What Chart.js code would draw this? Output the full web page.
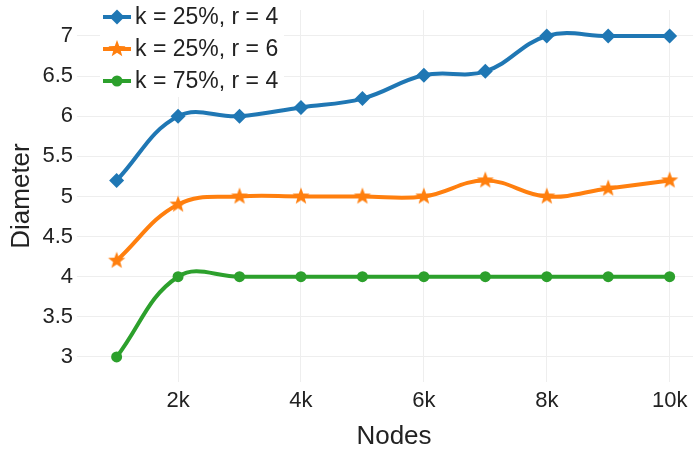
<!DOCTYPE html>
<html>
<head>
<meta charset="utf-8">
<script src="https://cdn.jsdelivr.net/npm/chart.js@4.4.1/dist/chart.umd.min.js"></script>
<style>
  html, body { margin: 0; padding: 0; background: #fff; }
  #wrap { width: 693px; height: 451px; position: relative; }
</style>
</head>
<body>
<div id="wrap"><canvas id="c" width="693" height="451"></canvas></div>
<script>
const nodes = [1000, 2000, 3000, 4000, 5000, 6000, 7000, 8000, 9000, 10000];
const seriesLabels = ['k = 25%, r = 4', 'k = 25%, r = 6', 'k = 75%, r = 4'];
const k25r4 = [5.2, 6.0, 6.0, 6.11, 6.22, 6.51, 6.56, 7.0, 7.0, 7.0];
const k25r6 = [4.2, 4.9, 5.0, 5.0, 5.0, 5.0, 5.2, 5.0, 5.1, 5.2];
const k75r4 = [3.0, 4.0, 4.0, 4.0, 4.0, 4.0, 4.0, 4.0, 4.0, 4.0];
const xTicks = [2000, 4000, 6000, 8000, 10000];
const yTicks = [3, 3.5, 4, 4.5, 5, 5.5, 6, 6.5, 7];
const xTitle = 'Nodes';
const yTitle = 'Diameter';

const FONT = "'Liberation Sans', Arial, sans-serif";
const colors = ['#1f77b4', '#ff7f0e', '#2ca02c'];

function makeStar(color, R) {
  const size = Math.ceil(R * 2 + 2);
  const cv = document.createElement('canvas');
  cv.width = size; cv.height = size;
  const g = cv.getContext('2d');
  const cx = size / 2, cy = size / 2, r = R * 0.42;
  g.beginPath();
  for (let i = 0; i < 10; i++) {
    const ang = -Math.PI / 2 + i * Math.PI / 5;
    const rad = i % 2 === 0 ? R : r;
    const px = cx + rad * Math.cos(ang), py = cy + rad * Math.sin(ang);
    if (i === 0) g.moveTo(px, py); else g.lineTo(px, py);
  }
  g.closePath();
  g.fillStyle = color;
  g.fill();
  return cv;
}
const starImg = makeStar(colors[1], 9);

const pointStyles = ['rectRot', starImg, 'circle'];
const pointRadii = [7.5, 9, 5.5];

function toXY(vals) { return nodes.map((n, i) => ({ x: n, y: vals[i] })); }
const allVals = [k25r4, k25r6, k75r4];

const datasets = allVals.map((v, i) => ({
  label: seriesLabels[i],
  data: toXY(v),
  borderColor: colors[i],
  backgroundColor: colors[i],
  borderWidth: 4,
  pointStyle: pointStyles[i],
  pointRadius: pointRadii[i],
  pointHoverRadius: pointRadii[i],
  pointBorderWidth: 0,
  tension: 0.4,
  fill: false
}));

const overlayPlugin = {
  id: 'overlay',
  afterDraw(chart) {
    const ctx = chart.ctx;
    ctx.save();
    ctx.fillStyle = '#ffffff';
    ctx.fillRect(100, 0, 184, 97);
    const rows = [17, 49, 81];
    chart.data.datasets.forEach((ds, i) => {
      const y = rows[i];
      ctx.strokeStyle = ds.borderColor;
      ctx.lineWidth = 4;
      ctx.beginPath();
      ctx.moveTo(103, y);
      ctx.lineTo(131, y);
      ctx.stroke();
      ctx.fillStyle = ds.backgroundColor;
      Chart.helpers.drawPoint(ctx, { pointStyle: ds.pointStyle, rotation: 0, borderWidth: 0, radius: ds.pointRadius }, 117, y);
      ctx.fillStyle = '#222';
      ctx.font = '23px ' + FONT;
      ctx.textBaseline = 'middle';
      ctx.textAlign = 'left';
      ctx.fillText(ds.label, 135, y + 1);
    });
    ctx.fillStyle = '#222';
    ctx.font = '26px ' + FONT;
    ctx.textAlign = 'center';
    ctx.textBaseline = 'middle';
    ctx.fillText(xTitle, 394, 437);
    ctx.restore();
  }
};

function zeroPad(s) { s.paddingLeft = 0; s.paddingRight = 0; s.paddingTop = 0; s.paddingBottom = 0; }

const chart = new Chart(document.getElementById('c'), {
  type: 'line',
  data: { datasets },
  options: {
    responsive: false,
    animation: false,
    devicePixelRatio: 1,
    layout: { autoPadding: false, padding: { top: 10, right: 0, left: 0, bottom: 0 } },
    plugins: { legend: { display: false }, tooltip: { enabled: false } },
    scales: {
      x: {
        type: 'linear',
        min: 355,
        max: 10380,
        afterBuildTicks: s => { s.ticks = xTicks.map(v => ({ value: v })); },
        afterFit: s => { s.height = 69; zeroPad(s); },
        grid: { color: '#eeeeee', lineWidth: 1, drawTicks: false },
        border: { display: false },
        ticks: {
          padding: 6,
          color: '#222',
          font: { family: FONT, size: 22 },
          maxRotation: 0,
          callback: v => (v / 1000) + 'k'
        },
        title: { display: false }
      },
      y: {
        type: 'linear',
        min: 2.688,
        max: 7.324,
        afterBuildTicks: s => { s.ticks = yTicks.map(v => ({ value: v })); },
        afterFit: s => { s.width = 77; zeroPad(s); },
        grid: { color: '#eeeeee', lineWidth: 1, drawTicks: false },
        border: { display: false },
        ticks: {
          padding: 4,
          color: '#222',
          font: { family: FONT, size: 22 },
          callback: v => String(v)
        },
        title: {
          display: true,
          text: yTitle,
          color: '#222',
          font: { family: FONT, size: 26, lineHeight: 1 },
          padding: { top: 9, bottom: 0 }
        }
      }
    }
  },
  plugins: [overlayPlugin]
});
</script>
</body>
</html>
